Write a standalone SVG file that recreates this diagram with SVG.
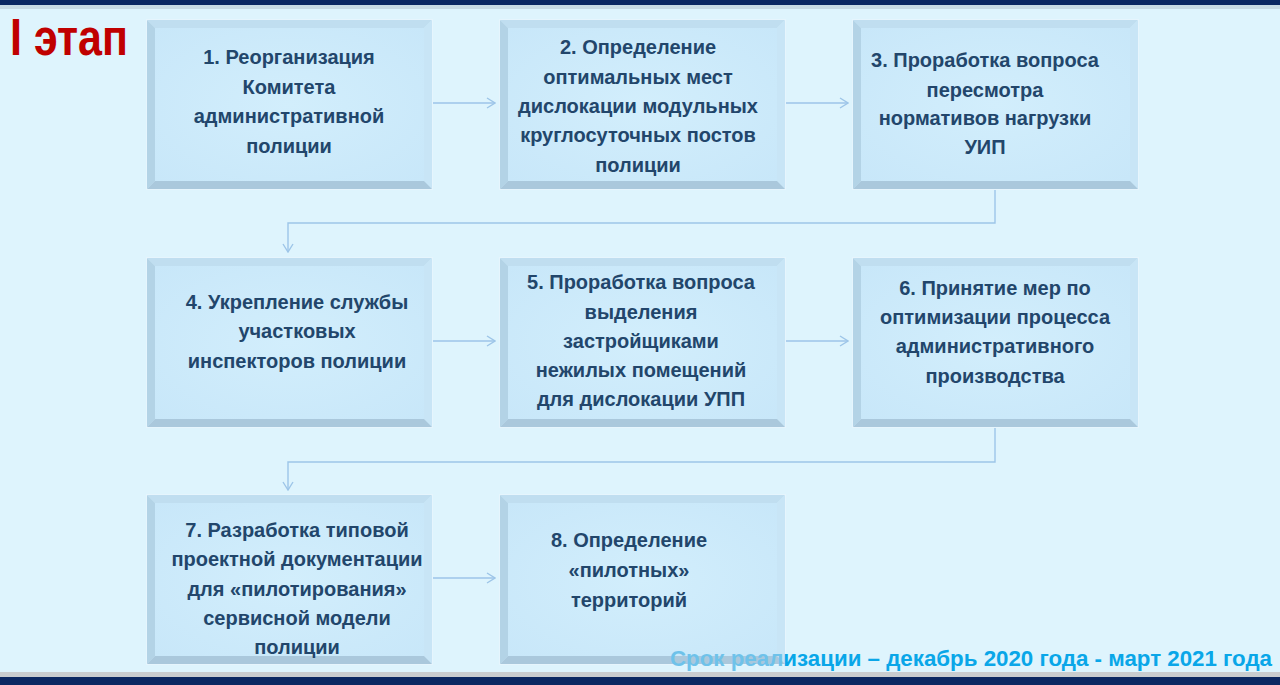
<svg xmlns="http://www.w3.org/2000/svg" xmlns:xlink="http://www.w3.org/1999/xlink" width="1280" height="685" viewBox="0 0 1280 685">
<defs>
<style>
.t{font-family:"Liberation Sans",Arial,sans-serif;font-weight:bold;font-size:20px;fill:#22466b;text-anchor:middle}
.c{fill:none;stroke:#9dc5e8;stroke-width:1.4;marker-end:url(#ah)}
</style>
<marker id="ah" markerUnits="userSpaceOnUse" markerWidth="10" markerHeight="12" refX="9" refY="6" orient="auto">
<path d="M1,1 L9,6 L1,11" fill="none" stroke="#9dc5e8" stroke-width="1.4"/>
</marker>
<linearGradient id="tg" gradientUnits="userSpaceOnUse" x1="670" y1="0" x2="1272" y2="0">
<stop offset="0" stop-color="#6ec2ea"/>
<stop offset="0.1894" stop-color="#6ec2ea"/>
<stop offset="0.1894" stop-color="#0aa6e8"/>
<stop offset="1" stop-color="#0aa6e8"/>
</linearGradient>
<radialGradient id="fg" cx="0.5" cy="0.5" r="0.7">
<stop offset="0" stop-color="#d2eefc"/>
<stop offset="1" stop-color="#c8e7f9"/>
</radialGradient>
<g id="box">
<rect x="0" y="0" width="285" height="169" fill="#cdebfb" stroke="#e6f5fd" stroke-width="2"/>
<polygon points="0,0 285,0 277,8 8,8" fill="#c0def0"/>
<polygon points="0,0 8,8 8,161 0,169" fill="#b3d3e6"/>
<polygon points="285,0 285,169 277,161 277,8" fill="#c8e5f6"/>
<polygon points="0,169 285,169 277,161 8,161" fill="#aac8dc"/>
<rect x="8" y="8" width="269" height="153" fill="url(#fg)"/>
</g>
</defs>
<rect x="0" y="0" width="1280" height="685" fill="#def4fd"/>
<rect x="0" y="0" width="1280" height="5" fill="#0b2862"/>
<rect x="0" y="5" width="1280" height="4" fill="#b9c9d3" opacity="0.6"/>
<rect x="0" y="672" width="1280" height="5" fill="#c9cccf"/>
<rect x="0" y="677" width="1280" height="8" fill="#0b2862"/>

<text x="10" y="55" font-family="'Liberation Sans',Arial,sans-serif" font-weight="bold" font-size="52" fill="#c00000" textLength="118" lengthAdjust="spacingAndGlyphs">I этап</text>

<g id="connectors">
<line class="c" x1="433" y1="103" x2="495" y2="103"/>
<line class="c" x1="785" y1="103" x2="848" y2="103"/>
<polyline class="c" points="995,190 995,223 288,223 288,252"/>
<line class="c" x1="433" y1="341" x2="495" y2="341"/>
<line class="c" x1="785" y1="341" x2="848" y2="341"/>
<polyline class="c" points="995,428 995,462 288,462 288,490"/>
<line class="c" x1="433" y1="578" x2="495" y2="578"/>
</g>

<g id="node1">
<use xlink:href="#box" x="147" y="20"/>
<text class="t" x="289" y="64">1. Реорганизация</text>
<text class="t" x="289" y="94">Комитета</text>
<text class="t" x="289" y="123">административной</text>
<text class="t" x="289" y="153">полиции</text>
</g>
<g id="node2">
<use xlink:href="#box" x="500" y="20"/>
<text class="t" x="638" y="54">2. Определение</text>
<text class="t" x="638" y="84">оптимальных мест</text>
<text class="t" x="638" y="113">дислокации модульных</text>
<text class="t" x="638" y="142">круглосуточных постов</text>
<text class="t" x="638" y="172">полиции</text>
</g>
<g id="node3">
<use xlink:href="#box" x="853" y="20"/>
<text class="t" x="985" y="67">3. Проработка вопроса</text>
<text class="t" x="985" y="97">пересмотра</text>
<text class="t" x="985" y="125">нормативов нагрузки</text>
<text class="t" x="985" y="154">УИП</text>
</g>
<g id="node4">
<use xlink:href="#box" x="147" y="258"/>
<text class="t" x="297" y="309">4. Укрепление службы</text>
<text class="t" x="297" y="338">участковых</text>
<text class="t" x="297" y="368">инспекторов полиции</text>
</g>
<g id="node5">
<use xlink:href="#box" x="500" y="258"/>
<text class="t" x="641" y="289">5. Проработка вопроса</text>
<text class="t" x="641" y="319">выделения</text>
<text class="t" x="641" y="348">застройщиками</text>
<text class="t" x="641" y="377">нежилых помещений</text>
<text class="t" x="641" y="406">для дислокации УПП</text>
</g>
<g id="node6">
<use xlink:href="#box" x="853" y="258"/>
<text class="t" x="995" y="295">6. Принятие мер по</text>
<text class="t" x="995" y="324">оптимизации процесса</text>
<text class="t" x="995" y="353">административного</text>
<text class="t" x="995" y="383">производства</text>
</g>
<g id="node7">
<use xlink:href="#box" x="147" y="495"/>
<text class="t" x="297" y="537">7. Разработка типовой</text>
<text class="t" x="297" y="566">проектной документации</text>
<text class="t" x="297" y="596">для «пилотирования»</text>
<text class="t" x="297" y="625">сервисной модели</text>
<text class="t" x="297" y="654">полиции</text>
</g>
<g id="node8">
<use xlink:href="#box" x="500" y="495"/>
<text class="t" x="629" y="547">8. Определение</text>
<text class="t" x="629" y="577">«пилотных»</text>
<text class="t" x="629" y="607">территорий</text>
</g>

<text x="670" y="666" font-family="'Liberation Sans',Arial,sans-serif" font-weight="bold" font-size="22" fill="url(#tg)" textLength="602" lengthAdjust="spacingAndGlyphs">Срок реализации – декабрь 2020 года - март 2021 года</text>
</svg>
